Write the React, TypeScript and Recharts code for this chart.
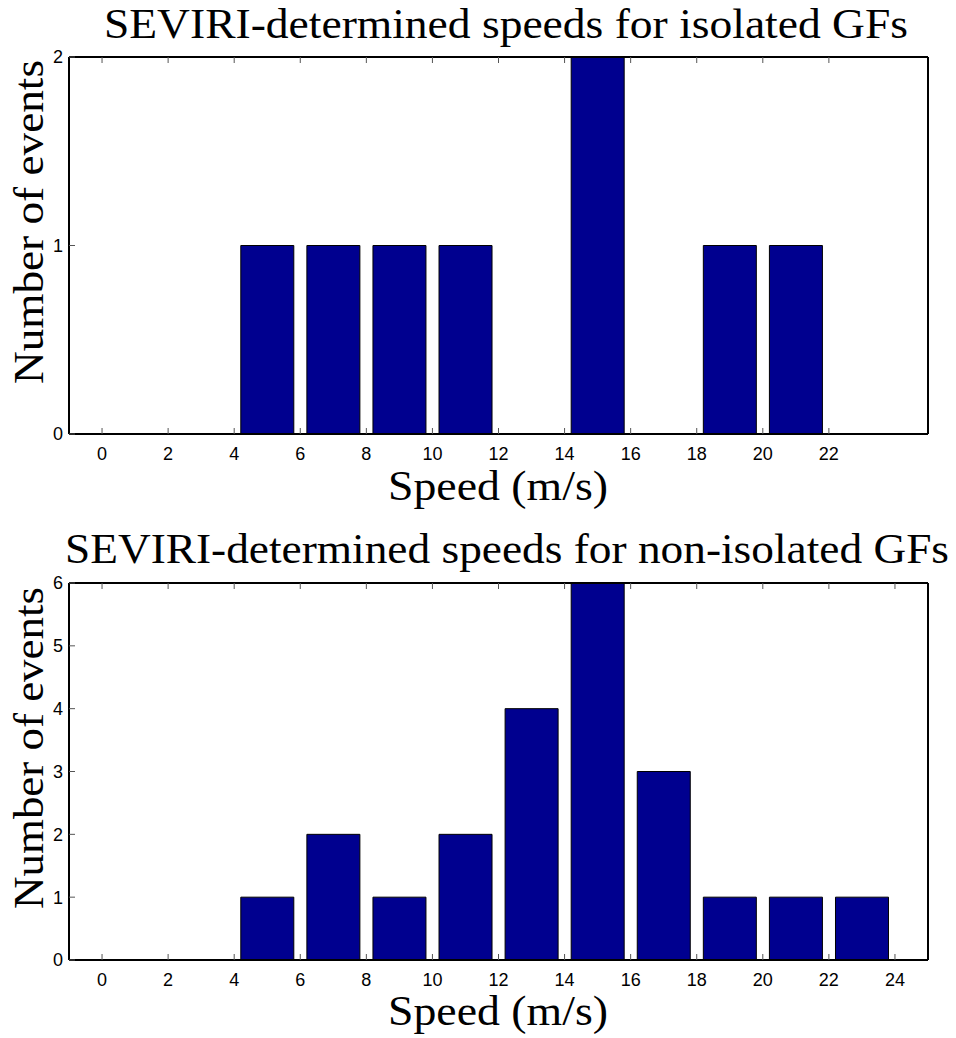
import { Bar, BarChart, XAxis, YAxis } from "recharts";

// histogram bin centres (m/s) and event counts
const binCenters = [1, 3, 5, 7, 9, 11, 13, 15, 17, 19, 21, 23];
const isolatedCounts = [0, 0, 1, 1, 1, 1, 0, 2, 0, 1, 1, 0];
const nonIsolatedCounts = [0, 0, 1, 2, 1, 2, 4, 6, 3, 1, 1, 1];

const isolatedXTicks = [0, 2, 4, 6, 8, 10, 12, 14, 16, 18, 20, 22];
const nonIsolatedXTicks = [0, 2, 4, 6, 8, 10, 12, 14, 16, 18, 20, 22, 24];
const isolatedYTicks = [0, 1, 2];
const nonIsolatedYTicks = [0, 1, 2, 3, 4, 5, 6];

const PAGE_W = 956;
const PLOT_LEFT = 69;
const PLOT_RIGHT = 928;
const BAR_COLOR = "#00008f";
const SERIF = "'Liberation Serif', 'DejaVu Serif', serif";
const SANS = "'Liberation Sans', Arial, sans-serif";

type PanelProps = {
  top: number;
  height: number;
  plotTop: number;
  plotBottom: number;
  counts: number[];
  xTicks: number[];
  yTicks: number[];
};

function Panel({ top, height, plotTop, plotBottom, counts, xTicks, yTicks }: PanelProps) {
  const data = binCenters.map((speed, i) => ({ speed, count: counts[i] }));
  const yMax = yTicks[yTicks.length - 1];
  const xAxisH = 30;
  const tickLine = { stroke: "#555", strokeWidth: 1 };
  const axisLine = { stroke: "#000", strokeWidth: 2 };
  return (
    <div style={{ position: "absolute", left: 0, top }}>
      <BarChart
        width={PAGE_W}
        height={height}
        data={data}
        barCategoryGap="10%"
        margin={{
          top: plotTop - 1,
          right: PAGE_W - PLOT_RIGHT - 1,
          left: 0,
          bottom: height - plotBottom - xAxisH,
        }}
      >
        <XAxis
          xAxisId="bottom"
          dataKey="speed"
          type="number"
          domain={[-1, 25]}
          ticks={xTicks}
          height={xAxisH}
          tickSize={-6}
          tickMargin={19}
          tickLine={tickLine}
          axisLine={axisLine}
          tick={{ fill: "#000", fontSize: 18, fontFamily: SANS }}
        />
        <XAxis
          xAxisId="top"
          orientation="top"
          dataKey="speed"
          type="number"
          domain={[-1, 25]}
          ticks={xTicks}
          height={1}
          tickSize={-6}
          tickLine={tickLine}
          axisLine={axisLine}
          tickFormatter={() => ""}
        />
        <YAxis
          yAxisId="left"
          type="number"
          domain={[0, yMax]}
          ticks={yTicks}
          width={PLOT_LEFT}
          tickSize={-6}
          tickMargin={12}
          tickLine={tickLine}
          axisLine={axisLine}
          tick={{ fill: "#000", fontSize: 18, fontFamily: SANS }}
        />
        <YAxis
          yAxisId="right"
          orientation="right"
          type="number"
          domain={[0, yMax]}
          ticks={yTicks}
          width={1}
          tickSize={-6}
          tickLine={tickLine}
          axisLine={axisLine}
          tickFormatter={() => ""}
        />
        <Bar
          dataKey="count"
          xAxisId="bottom"
          yAxisId="left"
          fill={BAR_COLOR}
          stroke="#000"
          strokeWidth={1}
          isAnimationActive={false}
        />
      </BarChart>
    </div>
  );
}

export default function App() {
  return (
    <div
      style={{
        position: "absolute",
        left: 0,
        top: 0,
        width: PAGE_W,
        height: 1038,
        background: "#fff",
        overflow: "hidden",
      }}
    >
      <Panel
        top={0}
        height={520}
        plotTop={57}
        plotBottom={434}
        counts={isolatedCounts}
        xTicks={isolatedXTicks}
        yTicks={isolatedYTicks}
      />
      <Panel
        top={520}
        height={518}
        plotTop={63}
        plotBottom={440}
        counts={nonIsolatedCounts}
        xTicks={nonIsolatedXTicks}
        yTicks={nonIsolatedYTicks}
      />
      <svg
        width={PAGE_W}
        height={1038}
        style={{ position: "absolute", left: 0, top: 0, pointerEvents: "none" }}
      >
        <g fontFamily={SERIF} fill="#000" fontSize={42}>
          <text x={104} y={38} textLength={804} lengthAdjust="spacingAndGlyphs">
            SEVIRI-determined speeds for isolated GFs
          </text>
          <text x={388} y={500} textLength={220} lengthAdjust="spacingAndGlyphs">
            Speed (m/s)
          </text>
          <text
            x={-384}
            y={43}
            textLength={324}
            lengthAdjust="spacingAndGlyphs"
            transform="rotate(-90)"
          >
            Number of events
          </text>
          <text x={65} y={563} textLength={884} lengthAdjust="spacingAndGlyphs">
            SEVIRI-determined speeds for non-isolated GFs
          </text>
          <text x={388} y={1025} textLength={220} lengthAdjust="spacingAndGlyphs">
            Speed (m/s)
          </text>
          <text
            x={-909}
            y={43}
            textLength={322}
            lengthAdjust="spacingAndGlyphs"
            transform="rotate(-90)"
          >
            Number of events
          </text>
        </g>
      </svg>
    </div>
  );
}
